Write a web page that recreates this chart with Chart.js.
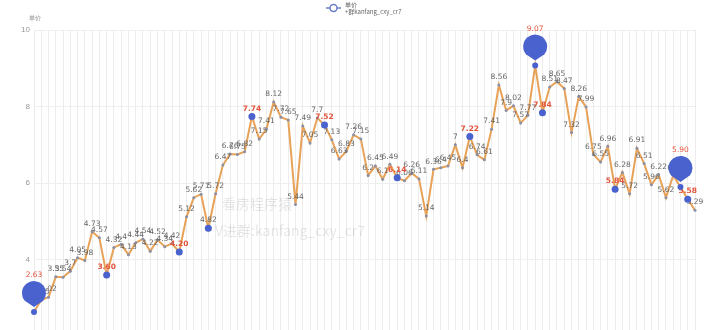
<!DOCTYPE html>
<html>
<head>
<meta charset="utf-8">
<script src="https://cdn.jsdelivr.net/npm/chart.js@4.4.1/dist/chart.umd.min.js"></script>
<style>
  html, body { margin: 0; padding: 0; background: #fff; overflow: hidden; }
  #wrap { width: 718px; height: 345px; }
</style>
</head>
<body>
<div id="wrap"><canvas id="priceChart"></canvas></div>
<script>
const seriesName = '单价';
const legendSub = '+群kanfang_cxy_cr7';
const axisName = '单价';
const watermark = ['看房程序猿', 'V进群:kanfang_cxy_cr7'];

const values = [
  2.63, 2.95, 3.02, 3.55, 3.54, 3.7, 4.05, 3.98, 4.73, 4.57,
  3.6, 4.32, 4.4, 4.13, 4.44, 4.54, 4.22, 4.52, 4.34, 4.42,
  4.2, 5.12, 5.62, 5.71, 4.82, 5.72, 6.47, 6.76, 6.75, 6.82,
  7.74, 7.15, 7.41, 8.12, 7.72, 7.65, 5.44, 7.49, 7.05, 7.7,
  7.52, 7.13, 6.63, 6.83, 7.26, 7.15, 6.2, 6.45, 6.1, 6.49,
  6.14, 6.06, 6.26, 6.11, 5.14, 6.36, 6.4, 6.45, 7, 6.4,
  7.22, 6.74, 6.61, 7.41, 8.56, 7.9, 8.02, 7.57, 7.77, 9.07,
  7.84, 8.51, 8.65, 8.47, 7.32, 8.26, 7.99, 6.75, 6.55, 6.96,
  5.84, 6.28, 5.72, 6.91, 6.51, 5.96, 6.22, 5.62, 6.2, 5.9,
  5.58, 5.29
];
const labels = values.map((v, i) => String(i + 1));

// highlighted points (blue dot), red labelled points, and big pins
const dotIdx = [10, 20, 24, 30, 40, 50, 60, 70, 80, 90];
const redIdx = [10, 20, 30, 40, 50, 60, 70, 80, 90];
const pinIdx = [0, 69, 89];

const lineColor = 'rgb(232,162,88)';
const blue = 'rgb(74,98,206)';
const red = 'rgb(226,84,60)';

const extras = {
  id: 'extras',
  beforeDatasetsDraw(chart) {
    const c = chart.ctx;
    c.save();
    c.fillStyle = 'rgba(0,0,0,0.1)';
    c.font = '14px "Noto Sans CJK SC"';
    c.textBaseline = 'middle';
    c.fillText(watermark[0], 222, 204);
    c.fillText(watermark[1], 215, 231);
    c.restore();
  },
  afterDatasetsDraw(chart) {
    const c = chart.ctx;
    const pts = chart.getDatasetMeta(0).data;
    c.save();
    c.textAlign = 'center';
    c.textBaseline = 'bottom';

    // value labels
    c.font = '7.5px "DejaVu Sans"';
    c.fillStyle = '#666';
    pts.forEach((p, i) => {
      if (pinIdx.includes(i) || redIdx.includes(i)) return;
      c.fillText(String(values[i]), p.x, p.y - 4);
    });

    // blue dots
    c.fillStyle = blue;
    dotIdx.forEach(i => {
      c.beginPath();
      c.arc(pts[i].x, pts[i].y, 3.5, 0, Math.PI * 2);
      c.fill();
    });
    c.font = 'bold 7.5px "DejaVu Sans"';
    c.fillStyle = red;
    redIdx.forEach(i => c.fillText(values[i].toFixed(2), pts[i].x, pts[i].y - 4));

    // pins
    pinIdx.forEach(i => {
      const p = pts[i];
      const r = 12, cy = p.y - 19;
      c.fillStyle = blue;
      c.beginPath();
      c.arc(p.x, cy, r, Math.PI * 0.78, Math.PI * 2.22);
      c.lineTo(p.x, p.y - 5);
      c.closePath();
      c.fill();
      c.beginPath();
      c.arc(p.x, p.y, 3, 0, Math.PI * 2);
      c.fill();
      c.font = '7.5px "DejaVu Sans"';
      c.fillStyle = red;
      c.fillText(values[i].toFixed(2), p.x, p.y - 33);
    });
    c.restore();
  },
  afterDraw(chart) {
    const c = chart.ctx;
    c.save();
    // legend
    c.strokeStyle = '#6a7fc8';
    c.lineWidth = 1.5;
    c.beginPath(); c.moveTo(326, 8); c.lineTo(341, 8); c.stroke();
    c.fillStyle = '#fff';
    c.beginPath(); c.arc(333.5, 8, 3.5, 0, Math.PI * 2); c.fill(); c.stroke();
    c.fillStyle = '#666';
    c.font = '6px "Noto Sans CJK SC"';
    c.textBaseline = 'middle';
    c.fillText(seriesName, 345, 5);
    c.fillText(legendSub, 345, 12);
    // y axis name
    c.fillStyle = '#999';
    c.fillText(axisName, 29, 18);
    c.restore();
  }
};

new Chart(document.getElementById('priceChart'), {
  type: 'line',
  data: {
    labels: labels,
    datasets: [{
      label: seriesName,
      data: values,
      borderColor: lineColor,
      borderWidth: 2,
      pointRadius: 1.5,
      pointBackgroundColor: '#8a90a8',
      pointBorderWidth: 0,
      tension: 0
    }]
  },
  options: {
    responsive: true,
    maintainAspectRatio: false,
    animation: false,
    layout: { padding: { top: 30, right: 23, bottom: 3, left: 0 } },
    plugins: { legend: { display: false }, tooltip: { enabled: false } },
    scales: {
      x: {
        grid: { color: '#ececec', drawTicks: false },
        border: { display: false },
        ticks: { display: false, autoSkip: false }
      },
      y: {
        min: 2, max: 10,
        grid: { color: '#efefef', drawTicks: false },
        border: { display: false },
        ticks: { stepSize: 2, padding: 4, color: '#999', font: { size: 8 } },
        afterFit(scale) { scale.width = 34; }
      }
    }
  },
  plugins: [extras]
});
</script>
</body>
</html>
